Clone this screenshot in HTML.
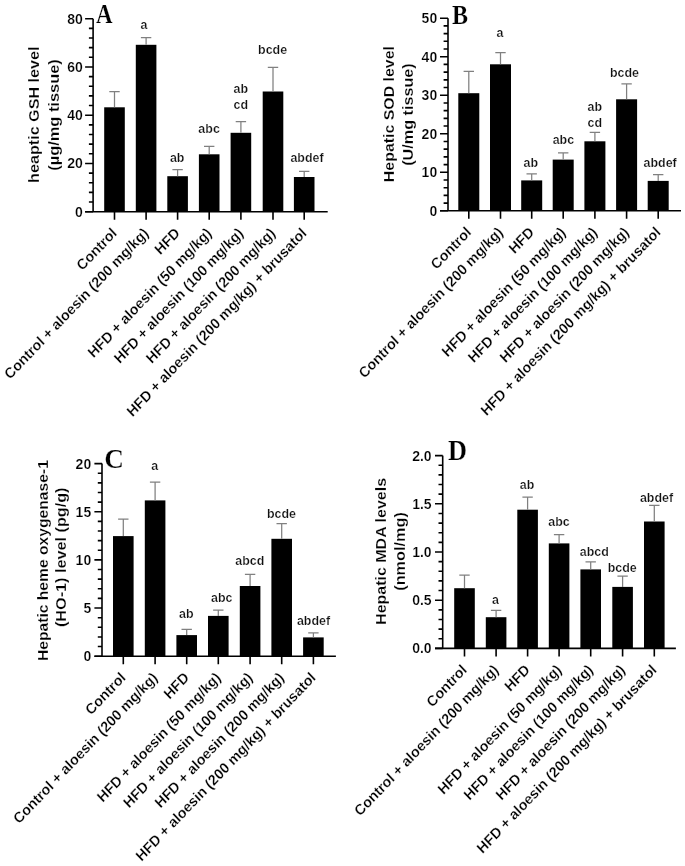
<!DOCTYPE html>
<html><head><meta charset="utf-8"><title>Hepatic markers</title>
<style>
html,body{margin:0;padding:0;background:#fff;}
body{width:685px;height:866px;overflow:hidden;}
svg{display:block;filter:blur(0.3px);}
text{font-family:"Liberation Sans",sans-serif;fill:#000;stroke:#fff;stroke-width:0.22px;}
.yt{font-size:14.6px;font-weight:bold;text-anchor:end;}
.sl{font-size:12.9px;font-weight:bold;text-anchor:middle;fill:#111;}
.xl{font-size:14.1px;font-weight:bold;text-anchor:end;}
.tt{font-size:16px;font-weight:bold;text-anchor:middle;}
.pl{font-family:"Liberation Serif",serif;font-size:26px;font-weight:bold;}
</style></head>
<body>
<svg width="685" height="866" viewBox="0 0 685 866">
<rect width="685" height="866" fill="#fff"/>
<path d="M93.1 211.7V18.7" stroke="#000" stroke-width="1.6" fill="none"/>
<path d="M85.1 211.7H327.7" stroke="#000" stroke-width="1.6" fill="none"/>
<path d="M85.1 211.7H93.1M88.9 202.05H93.1M88.9 192.4H93.1M88.9 182.75H93.1M88.9 173.1H93.1M85.1 163.45H93.1M88.9 153.8H93.1M88.9 144.15H93.1M88.9 134.5H93.1M88.9 124.85H93.1M85.1 115.2H93.1M88.9 105.55H93.1M88.9 95.9H93.1M88.9 86.25H93.1M88.9 76.6H93.1M85.1 66.95H93.1M88.9 57.3H93.1M88.9 47.65H93.1M88.9 38H93.1M88.9 28.35H93.1M85.1 18.7H93.1" stroke="#000" stroke-width="1.6" fill="none"/>
<text class="yt" transform="translate(82.8 216.7) scale(0.96 1)">0</text>
<text class="yt" transform="translate(82.8 168.45) scale(0.96 1)">20</text>
<text class="yt" transform="translate(82.8 120.2) scale(0.96 1)">40</text>
<text class="yt" transform="translate(82.8 71.95) scale(0.96 1)">60</text>
<text class="yt" transform="translate(82.8 23.7) scale(0.96 1)">80</text>
<path d="M114.5 211.7V219.7M146.1 211.7V219.7M177.6 211.7V219.7M209.2 211.7V219.7M240.9 211.7V219.7M273 211.7V219.7M304.2 211.7V219.7" stroke="#000" stroke-width="1.6" fill="none"/>
<rect x="104.2" y="107.3" width="20.6" height="104.4" fill="#000"/>
<path d="M114.5 107.3V91.5M109.3 91.5H119.7" stroke="#808080" stroke-width="1.25" fill="none"/>
<rect x="135.8" y="44.8" width="20.6" height="166.9" fill="#000"/>
<path d="M146.1 44.8V37.5M140.9 37.5H151.3" stroke="#808080" stroke-width="1.25" fill="none"/>
<rect x="167.3" y="176.2" width="20.6" height="35.5" fill="#000"/>
<path d="M177.6 176.2V169.5M172.4 169.5H182.8" stroke="#808080" stroke-width="1.25" fill="none"/>
<rect x="198.9" y="154.3" width="20.6" height="57.4" fill="#000"/>
<path d="M209.2 154.3V146.4M204 146.4H214.4" stroke="#808080" stroke-width="1.25" fill="none"/>
<rect x="230.6" y="132.8" width="20.6" height="78.9" fill="#000"/>
<path d="M240.9 132.8V121.6M235.7 121.6H246.1" stroke="#808080" stroke-width="1.25" fill="none"/>
<rect x="262.7" y="91.5" width="20.6" height="120.2" fill="#000"/>
<path d="M273 91.5V67.4M267.8 67.4H278.2" stroke="#808080" stroke-width="1.25" fill="none"/>
<rect x="293.9" y="177" width="20.6" height="34.7" fill="#000"/>
<path d="M304.2 177V171.4M299 171.4H309.4" stroke="#808080" stroke-width="1.25" fill="none"/>
<text class="sl" transform="translate(143.9 29.4) scale(0.966 1)">a</text>
<text class="sl" transform="translate(177.2 161.6) scale(0.966 1)">ab</text>
<text class="sl" transform="translate(209.1 132.6) scale(0.966 1)">abc</text>
<text class="sl" transform="translate(240.8 92.9) scale(0.966 1)">ab</text>
<text class="sl" transform="translate(240.8 109.1) scale(0.966 1)">cd</text>
<text class="sl" transform="translate(272.6 53.6) scale(0.966 1)">bcde</text>
<text class="sl" transform="translate(307 161.6) scale(0.966 1)">abdef</text>
<text class="xl" transform="translate(117.7 234.05) scale(1 1.048) rotate(-45)">Control</text>
<text class="xl" transform="translate(149.3 234.05) scale(1 1.048) rotate(-45)">Control + aloesin (200 mg/kg)</text>
<text class="xl" transform="translate(180.8 234.05) scale(1 1.048) rotate(-45)">HFD</text>
<text class="xl" transform="translate(212.4 234.05) scale(1 1.048) rotate(-45)">HFD + aloesin (50 mg/kg)</text>
<text class="xl" transform="translate(244.1 234.05) scale(1 1.048) rotate(-45)">HFD + aloesin (100 mg/kg)</text>
<text class="xl" transform="translate(276.2 234.05) scale(1 1.048) rotate(-45)">HFD + aloesin (200 mg/kg)</text>
<text class="xl" transform="translate(307.4 234.05) scale(1 1.048) rotate(-45)">HFD + aloesin (200 mg/kg) + brusatol</text>
<text class="tt" transform="translate(38.6 114.7) scale(0.9333 1) rotate(-90)" style="font-size:16.18px">heaptic GSH level</text>
<text class="tt" transform="translate(59 115) scale(0.9202 1) rotate(-90)" style="font-size:16.41px">(µg/mg tissue)</text>
<text class="pl" transform="translate(96 23.3) scale(0.846 1)" style="font-size:27.1px">A</text>
<path d="M448 210.8V18.2" stroke="#000" stroke-width="1.6" fill="none"/>
<path d="M440 210.8H681" stroke="#000" stroke-width="1.6" fill="none"/>
<path d="M440 210.8H448M443.6 203.1H448M443.6 195.39H448M443.6 187.69H448M443.6 179.98H448M440 172.28H448M443.6 164.58H448M443.6 156.87H448M443.6 149.17H448M443.6 141.46H448M440 133.76H448M443.6 126.06H448M443.6 118.35H448M443.6 110.65H448M443.6 102.94H448M440 95.24H448M443.6 87.54H448M443.6 79.83H448M443.6 72.13H448M443.6 64.42H448M440 56.72H448M443.6 49.02H448M443.6 41.31H448M443.6 33.61H448M443.6 25.9H448M440 18.2H448" stroke="#000" stroke-width="1.6" fill="none"/>
<text class="yt" transform="translate(437.2 215.8) scale(0.96 1)">0</text>
<text class="yt" transform="translate(437.2 177.28) scale(0.96 1)">10</text>
<text class="yt" transform="translate(437.2 138.76) scale(0.96 1)">20</text>
<text class="yt" transform="translate(437.2 100.24) scale(0.96 1)">30</text>
<text class="yt" transform="translate(437.2 61.72) scale(0.96 1)">40</text>
<text class="yt" transform="translate(437.2 23.2) scale(0.96 1)">50</text>
<path d="M468.8 210.8V218.8M500.5 210.8V218.8M531.7 210.8V218.8M563.2 210.8V218.8M594.9 210.8V218.8M626.6 210.8V218.8M658.2 210.8V218.8" stroke="#000" stroke-width="1.6" fill="none"/>
<rect x="458.3" y="93.2" width="21" height="117.6" fill="#000"/>
<path d="M468.8 93.2V71.4M463.6 71.4H474" stroke="#808080" stroke-width="1.25" fill="none"/>
<rect x="490" y="64.3" width="21" height="146.5" fill="#000"/>
<path d="M500.5 64.3V52.5M495.3 52.5H505.7" stroke="#808080" stroke-width="1.25" fill="none"/>
<rect x="521.2" y="180.4" width="21" height="30.4" fill="#000"/>
<path d="M531.7 180.4V173.8M526.5 173.8H536.9" stroke="#808080" stroke-width="1.25" fill="none"/>
<rect x="552.7" y="159.6" width="21" height="51.2" fill="#000"/>
<path d="M563.2 159.6V152.9M558 152.9H568.4" stroke="#808080" stroke-width="1.25" fill="none"/>
<rect x="584.4" y="141.3" width="21" height="69.5" fill="#000"/>
<path d="M594.9 141.3V132.4M589.7 132.4H600.1" stroke="#808080" stroke-width="1.25" fill="none"/>
<rect x="616.1" y="99.3" width="21" height="111.5" fill="#000"/>
<path d="M626.6 99.3V83.9M621.4 83.9H631.8" stroke="#808080" stroke-width="1.25" fill="none"/>
<rect x="647.7" y="180.9" width="21" height="29.9" fill="#000"/>
<path d="M658.2 180.9V174.7M653 174.7H663.4" stroke="#808080" stroke-width="1.25" fill="none"/>
<text class="sl" transform="translate(500 36.9) scale(0.966 1)">a</text>
<text class="sl" transform="translate(530.8 166.8) scale(0.966 1)">ab</text>
<text class="sl" transform="translate(563.4 143.5) scale(0.966 1)">abc</text>
<text class="sl" transform="translate(594.8 110.7) scale(0.966 1)">ab</text>
<text class="sl" transform="translate(594.8 126.7) scale(0.966 1)">cd</text>
<text class="sl" transform="translate(624.4 76.7) scale(0.966 1)">bcde</text>
<text class="sl" transform="translate(660.1 166.8) scale(0.966 1)">abdef</text>
<text class="xl" transform="translate(472 233.15) scale(1 1.048) rotate(-45)">Control</text>
<text class="xl" transform="translate(503.7 233.15) scale(1 1.048) rotate(-45)">Control + aloesin (200 mg/kg)</text>
<text class="xl" transform="translate(534.9 233.15) scale(1 1.048) rotate(-45)">HFD</text>
<text class="xl" transform="translate(566.4 233.15) scale(1 1.048) rotate(-45)">HFD + aloesin (50 mg/kg)</text>
<text class="xl" transform="translate(598.1 233.15) scale(1 1.048) rotate(-45)">HFD + aloesin (100 mg/kg)</text>
<text class="xl" transform="translate(629.8 233.15) scale(1 1.048) rotate(-45)">HFD + aloesin (200 mg/kg)</text>
<text class="xl" transform="translate(661.4 233.15) scale(1 1.048) rotate(-45)">HFD + aloesin (200 mg/kg) + brusatol</text>
<text class="tt" transform="translate(394.2 114.1) scale(0.9491 1) rotate(-90)" style="font-size:15.91px">Hepatic SOD level</text>
<text class="tt" transform="translate(413.3 114.55) scale(0.9327 1) rotate(-90)" style="font-size:16.19px">(U/mg tissue)</text>
<text class="pl" transform="translate(452 24.3) scale(0.876 1)" style="font-size:27.5px">B</text>
<path d="M102 656.2V463.6" stroke="#000" stroke-width="1.6" fill="none"/>
<path d="M94.4 656.2H335.9" stroke="#000" stroke-width="1.6" fill="none"/>
<path d="M94.4 656.2H102M97.8 646.57H102M97.8 636.94H102M97.8 627.31H102M97.8 617.68H102M94.4 608.05H102M97.8 598.42H102M97.8 588.79H102M97.8 579.16H102M97.8 569.53H102M94.4 559.9H102M97.8 550.27H102M97.8 540.64H102M97.8 531.01H102M97.8 521.38H102M94.4 511.75H102M97.8 502.12H102M97.8 492.49H102M97.8 482.86H102M97.8 473.23H102M94.4 463.6H102" stroke="#000" stroke-width="1.6" fill="none"/>
<text class="yt" transform="translate(91.2 661.2) scale(0.96 1)">0</text>
<text class="yt" transform="translate(91.2 613.05) scale(0.96 1)">5</text>
<text class="yt" transform="translate(91.2 564.9) scale(0.96 1)">10</text>
<text class="yt" transform="translate(91.2 516.75) scale(0.96 1)">15</text>
<text class="yt" transform="translate(91.2 468.6) scale(0.96 1)">20</text>
<path d="M123.3 656.2V664.2M155.1 656.2V664.2M186.7 656.2V664.2M218.3 656.2V664.2M250.1 656.2V664.2M281.7 656.2V664.2M313.4 656.2V664.2" stroke="#000" stroke-width="1.6" fill="none"/>
<rect x="113" y="536.1" width="20.6" height="120.1" fill="#000"/>
<path d="M123.3 536.1V519M118.1 519H128.5" stroke="#808080" stroke-width="1.25" fill="none"/>
<rect x="144.8" y="500.4" width="20.6" height="155.8" fill="#000"/>
<path d="M155.1 500.4V482.1M149.9 482.1H160.3" stroke="#808080" stroke-width="1.25" fill="none"/>
<rect x="176.4" y="635.1" width="20.6" height="21.1" fill="#000"/>
<path d="M186.7 635.1V629.3M181.5 629.3H191.9" stroke="#808080" stroke-width="1.25" fill="none"/>
<rect x="208" y="615.9" width="20.6" height="40.3" fill="#000"/>
<path d="M218.3 615.9V610M213.1 610H223.5" stroke="#808080" stroke-width="1.25" fill="none"/>
<rect x="239.8" y="586" width="20.6" height="70.2" fill="#000"/>
<path d="M250.1 586V574.3M244.9 574.3H255.3" stroke="#808080" stroke-width="1.25" fill="none"/>
<rect x="271.4" y="538.8" width="20.6" height="117.4" fill="#000"/>
<path d="M281.7 538.8V523.7M276.5 523.7H286.9" stroke="#808080" stroke-width="1.25" fill="none"/>
<rect x="303.1" y="637.4" width="20.6" height="18.8" fill="#000"/>
<path d="M313.4 637.4V632.8M308.2 632.8H318.6" stroke="#808080" stroke-width="1.25" fill="none"/>
<text class="sl" transform="translate(154.6 470.4) scale(0.966 1)">a</text>
<text class="sl" transform="translate(186.3 617.6) scale(0.966 1)">ab</text>
<text class="sl" transform="translate(221.8 601.6) scale(0.966 1)">abc</text>
<text class="sl" transform="translate(249.8 564.6) scale(0.966 1)">abcd</text>
<text class="sl" transform="translate(281.5 518.2) scale(0.966 1)">bcde</text>
<text class="sl" transform="translate(313.5 624.7) scale(0.966 1)">abdef</text>
<text class="xl" transform="translate(126.5 678.55) scale(1 1.048) rotate(-45)">Control</text>
<text class="xl" transform="translate(158.3 678.55) scale(1 1.048) rotate(-45)">Control + aloesin (200 mg/kg)</text>
<text class="xl" transform="translate(189.9 678.55) scale(1 1.048) rotate(-45)">HFD</text>
<text class="xl" transform="translate(221.5 678.55) scale(1 1.048) rotate(-45)">HFD + aloesin (50 mg/kg)</text>
<text class="xl" transform="translate(253.3 678.55) scale(1 1.048) rotate(-45)">HFD + aloesin (100 mg/kg)</text>
<text class="xl" transform="translate(284.9 678.55) scale(1 1.048) rotate(-45)">HFD + aloesin (200 mg/kg)</text>
<text class="xl" transform="translate(316.6 678.55) scale(1 1.048) rotate(-45)">HFD + aloesin (200 mg/kg) + brusatol</text>
<text class="tt" transform="translate(47.9 560.6) scale(0.9642 1) rotate(-90)" style="font-size:15.66px">Hepatic heme oxygenase-1</text>
<text class="tt" transform="translate(66.3 557.3) scale(0.9315 1) rotate(-90)" style="font-size:16.21px">(HO-1) level (pg/g)</text>
<text class="pl" transform="translate(104.2 468.2) scale(1.01 1)" style="font-size:27.0px">C</text>
<path d="M442.7 648.4V455.6" stroke="#000" stroke-width="1.6" fill="none"/>
<path d="M435 648.4H675.9" stroke="#000" stroke-width="1.6" fill="none"/>
<path d="M435 648.4H442.7M438.5 638.76H442.7M438.5 629.12H442.7M438.5 619.48H442.7M438.5 609.84H442.7M435 600.2H442.7M438.5 590.56H442.7M438.5 580.92H442.7M438.5 571.28H442.7M438.5 561.64H442.7M435 552H442.7M438.5 542.36H442.7M438.5 532.72H442.7M438.5 523.08H442.7M438.5 513.44H442.7M435 503.8H442.7M438.5 494.16H442.7M438.5 484.52H442.7M438.5 474.88H442.7M438.5 465.24H442.7M435 455.6H442.7" stroke="#000" stroke-width="1.6" fill="none"/>
<text class="yt" transform="translate(431.6 653.4) scale(0.96 1)">0.0</text>
<text class="yt" transform="translate(431.6 605.2) scale(0.96 1)">0.5</text>
<text class="yt" transform="translate(431.6 557) scale(0.96 1)">1.0</text>
<text class="yt" transform="translate(431.6 508.8) scale(0.96 1)">1.5</text>
<text class="yt" transform="translate(431.6 460.6) scale(0.96 1)">2.0</text>
<path d="M464.5 648.4V656.4M496.1 648.4V656.4M527.6 648.4V656.4M559.1 648.4V656.4M590.7 648.4V656.4M622.6 648.4V656.4M654.3 648.4V656.4" stroke="#000" stroke-width="1.6" fill="none"/>
<rect x="454.2" y="588.2" width="20.6" height="60.2" fill="#000"/>
<path d="M464.5 588.2V575.2M459.3 575.2H469.7" stroke="#808080" stroke-width="1.25" fill="none"/>
<rect x="485.8" y="617.2" width="20.6" height="31.2" fill="#000"/>
<path d="M496.1 617.2V610.4M490.9 610.4H501.3" stroke="#808080" stroke-width="1.25" fill="none"/>
<rect x="517.3" y="509.7" width="20.6" height="138.7" fill="#000"/>
<path d="M527.6 509.7V497M522.4 497H532.8" stroke="#808080" stroke-width="1.25" fill="none"/>
<rect x="548.8" y="543.4" width="20.6" height="105" fill="#000"/>
<path d="M559.1 543.4V534.5M553.9 534.5H564.3" stroke="#808080" stroke-width="1.25" fill="none"/>
<rect x="580.4" y="569.4" width="20.6" height="79" fill="#000"/>
<path d="M590.7 569.4V561.8M585.5 561.8H595.9" stroke="#808080" stroke-width="1.25" fill="none"/>
<rect x="612.3" y="586.9" width="20.6" height="61.5" fill="#000"/>
<path d="M622.6 586.9V576.2M617.4 576.2H627.8" stroke="#808080" stroke-width="1.25" fill="none"/>
<rect x="644" y="521.5" width="20.6" height="126.9" fill="#000"/>
<path d="M654.3 521.5V505.4M649.1 505.4H659.5" stroke="#808080" stroke-width="1.25" fill="none"/>
<text class="sl" transform="translate(495.4 604.2) scale(0.966 1)">a</text>
<text class="sl" transform="translate(527 488.8) scale(0.966 1)">ab</text>
<text class="sl" transform="translate(559 525.9) scale(0.966 1)">abc</text>
<text class="sl" transform="translate(594.3 556.2) scale(0.966 1)">abcd</text>
<text class="sl" transform="translate(622.2 572.4) scale(0.966 1)">bcde</text>
<text class="sl" transform="translate(656.5 502) scale(0.966 1)">abdef</text>
<text class="xl" transform="translate(467.7 670.75) scale(1 1.048) rotate(-45)">Control</text>
<text class="xl" transform="translate(499.3 670.75) scale(1 1.048) rotate(-45)">Control + aloesin (200 mg/kg)</text>
<text class="xl" transform="translate(530.8 670.75) scale(1 1.048) rotate(-45)">HFD</text>
<text class="xl" transform="translate(562.3 670.75) scale(1 1.048) rotate(-45)">HFD + aloesin (50 mg/kg)</text>
<text class="xl" transform="translate(593.9 670.75) scale(1 1.048) rotate(-45)">HFD + aloesin (100 mg/kg)</text>
<text class="xl" transform="translate(625.8 670.75) scale(1 1.048) rotate(-45)">HFD + aloesin (200 mg/kg)</text>
<text class="xl" transform="translate(657.5 670.75) scale(1 1.048) rotate(-45)">HFD + aloesin (200 mg/kg) + brusatol</text>
<text class="tt" transform="translate(385.7 551.45) scale(0.9437 1) rotate(-90)" style="font-size:16.0px">Hepatic MDA levels</text>
<text class="tt" transform="translate(405 551.4) scale(0.9264 1) rotate(-90)" style="font-size:16.3px">(nmol/mg)</text>
<text class="pl" transform="translate(448.1 459.6) scale(0.923 1)" style="font-size:28.55px">D</text>
</svg>
</body></html>
